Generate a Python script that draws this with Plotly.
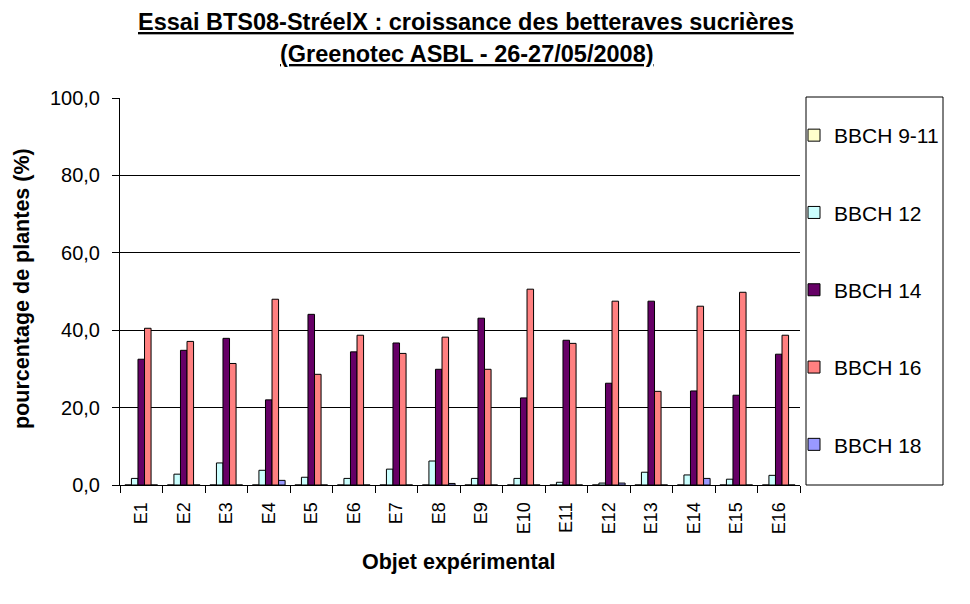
import plotly.graph_objects as go

categories = ["E1", "E2", "E3", "E4", "E5", "E6", "E7", "E8",
              "E9", "E10", "E11", "E12", "E13", "E14", "E15", "E16"]

series_names = ["BBCH 9-11", "BBCH 12", "BBCH 14", "BBCH 16", "BBCH 18"]

bbch_9_11 = [0.0] * 16
bbch_12 = [1.7, 2.8, 5.7, 3.8, 2.0, 1.7, 4.1, 6.2, 1.7, 1.7, 0.7, 0.5, 3.3, 2.6, 1.5, 2.5]
bbch_14 = [32.5, 34.8, 37.9, 22.0, 44.1, 34.4, 36.7, 29.9, 43.1, 22.5, 37.4, 26.3, 47.5, 24.3, 23.2, 33.8]
bbch_16 = [40.5, 37.1, 31.4, 48.0, 28.6, 38.7, 34.0, 38.2, 29.9, 50.6, 36.6, 47.5, 24.2, 46.2, 49.8, 38.7]
bbch_18 = [0.0, 0.0, 0.0, 1.2, 0.0, 0.0, 0.0, 0.4, 0.0, 0.0, 0.0, 0.5, 0.0, 1.7, 0.0, 0.0]

colors = ["#FFFFCC", "#CCFFFF", "#660066", "#FF8080", "#9999FF"]
all_series = [bbch_9_11, bbch_12, bbch_14, bbch_16, bbch_18]

FONT = "Arial, Liberation Sans, sans-serif"

fig = go.Figure()
for i, (name, vals, col) in enumerate(zip(series_names, all_series, colors)):
    fig.add_trace(go.Bar(
        x=categories, y=vals, name=name, legendgroup=f"g{i}",
        marker=dict(color=col, line=dict(color="black", width=1)),
    ))

# plot area in px: x 120..800, y 98..485
L, R, T, B = 120, 800, 98, 485
W, H = 970, 604
pw, ph = R - L, B - T

def px(x):
    return (x - L) / pw

def py(y):
    return (B - y) / ph

fig.update_layout(
    width=W, height=H,
    margin=dict(l=L, r=W - R, t=T, b=H - B, autoexpand=False),
    paper_bgcolor="white", plot_bgcolor="white",
    separators=", ",
    barmode="group", bargap=0.23, bargroupgap=0,
    font=dict(family=FONT, color="black", size=19),
    showlegend=True,
    legend=dict(
        x=px(794), xanchor="left", y=py(115), yanchor="top",
        bgcolor="rgba(0,0,0,0)", borderwidth=0,
        font=dict(family=FONT, size=21, color="black"),
        tracegroupgap=47, traceorder="grouped",
    ),
    xaxis=dict(
        type="category", showline=True, linecolor="black", linewidth=1,
        ticks="outside", tickson="boundaries", ticklen=7, tickcolor="black",
        tickangle=-90, tickfont=dict(size=18), showgrid=False,
        ticklabelstandoff=9,
    ),
    yaxis=dict(
        range=[0, 100], dtick=20, tickformat=".1f",
        showline=True, linecolor="black", linewidth=1,
        ticks="outside", ticklen=7, tickcolor="black",
        showgrid=True, gridcolor="black", gridwidth=1,
        zeroline=False, tickfont=dict(size=20),
        ticklabelstandoff=8,
    ),
    shapes=[dict(type="rect", xref="paper", yref="paper",
                 x0=px(806), x1=px(943), y0=py(485), y1=py(97),
                 line=dict(color="black", width=1), fillcolor="rgba(0,0,0,0)")],
    annotations=[
        dict(text="<b><u>Essai BTS08-StréelX : croissance des betteraves sucrières</u></b>",
             xref="paper", yref="paper", x=px(466), y=py(22), showarrow=False,
             xanchor="center", yanchor="middle", font=dict(size=23.5)),
        dict(text="<b><u>(Greenotec ASBL - 26-27/05/2008)</u></b>",
             xref="paper", yref="paper", x=px(467), y=py(54), showarrow=False,
             xanchor="center", yanchor="middle", font=dict(size=23.5)),
        dict(text="<b>pourcentage de plantes (%)</b>",
             xref="paper", yref="paper", x=px(22), y=py(289), showarrow=False,
             textangle=-90, xanchor="center", yanchor="middle", font=dict(size=21.5)),
        dict(text="<b>Objet expérimental</b>",
             xref="paper", yref="paper", x=px(459), y=py(562), showarrow=False,
             xanchor="center", yanchor="middle", font=dict(size=21.5)),
    ],
)

fig.write_html("out.html")
